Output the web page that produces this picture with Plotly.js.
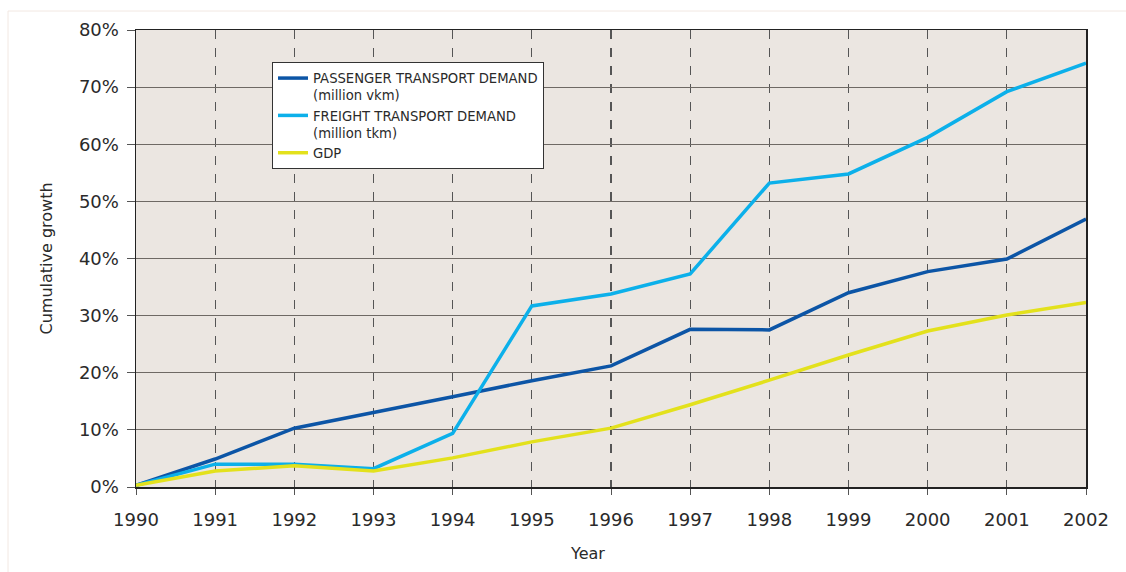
<!DOCTYPE html>
<html>
<head>
<meta charset="utf-8">
<script src="https://cdn.plot.ly/plotly-3.0.1.min.js"></script>
<style>html,body{margin:0;padding:0;background:#fff;}#chart{width:1126px;height:572px;}</style>
</head>
<body>
<div id="chart"></div>
<script>
const years = [1990,1991,1992,1993,1994,1995,1996,1997,1998,1999,2000,2001,2002];
const passenger = [0.3,4.9,10.3,13.0,15.8,18.6,21.2,27.6,27.5,34.0,37.7,39.9,46.9];
const freight = [0.3,4.0,4.0,3.2,9.4,31.7,33.8,37.3,53.2,54.8,61.2,69.2,74.2];
const gdp = [0.3,2.8,3.7,2.8,5.1,7.9,10.3,14.4,18.7,23.1,27.3,30.1,32.3];
const seriesNames = ['PASSENGER TRANSPORT DEMAND<br>(million vkm)','FREIGHT TRANSPORT DEMAND<br>(million tkm)','GDP'];
const yTicks = [0,10,20,30,40,50,60,70,80];

const font = 'DejaVu Sans, Noto Sans, sans-serif';
const traces = [
  {x: years, y: passenger, name: seriesNames[0], mode: 'lines', line: {color: '#0c55a6', width: 3.5}},
  {x: years, y: freight, name: seriesNames[1], mode: 'lines', line: {color: '#0cb0ea', width: 3.5}},
  {x: years, y: gdp, name: seriesNames[2], mode: 'lines', line: {color: '#e3e11c', width: 3.5}}
];
const layout = {
  width: 1126, height: 572,
  margin: {l: 136, r: 40, t: 30, b: 85},
  paper_bgcolor: '#ffffff',
  plot_bgcolor: '#ebe6e1',
  font: {family: font, color: '#222'},
  showlegend: true,
  legend: {
    x: (272-136)/950, y: (487-62)/457, xanchor: 'left', yanchor: 'top',
    bgcolor: '#ffffff', bordercolor: '#333', borderwidth: 1,
    font: {family: font, size: 13.2, color: '#2a2a2a'},
    valign: 'top', tracegroupgap: 0, itemwidth: 30
  },
  xaxis: {
    range: [1990, 2002], tickmode: 'array', tickvals: years, ticktext: years.map(String),
    showgrid: true, gridcolor: '#555', griddash: 'dash', gridwidth: 1.2,
    showline: true, linecolor: '#222', linewidth: 1.5, mirror: true,
    ticks: 'outside', ticklen: 6, tickcolor: '#555', ticklabelstandoff: 10,
    tickfont: {family: font, size: 18, color: '#2a2a2a'},
    zeroline: false, fixedrange: true
  },
  yaxis: {
    range: [0, 80], tickmode: 'array', tickvals: yTicks, ticktext: yTicks.map(v => v + '%'),
    showgrid: true, gridcolor: '#6e6964', gridwidth: 1.2,
    showline: true, linecolor: '#222', linewidth: 1.5, mirror: true,
    ticks: 'outside', ticklen: 8, tickcolor: '#555', ticklabelstandoff: 4,
    tickfont: {family: font, size: 18, color: '#2a2a2a'},
    zeroline: false, fixedrange: true
  },
  shapes: [
    {type: 'rect', xref: 'paper', yref: 'paper', x0: (8-136)/950, x1: 1.2, y0: -0.3, y1: (487-11)/457,
     line: {color: '#f2e8e2', width: 1}, fillcolor: 'rgba(0,0,0,0)', layer: 'below'}
  ],
  annotations: [
    {text: 'Year', xref: 'paper', yref: 'paper', x: (587-136)/950, y: (487-553)/457,
     showarrow: false, xanchor: 'center', yanchor: 'middle', font: {family: font, size: 16, color: '#2a2a2a'}},
    {text: 'Cumulative growth', xref: 'paper', yref: 'paper', x: (46-136)/950, y: 0.5, textangle: -90,
     showarrow: false, xanchor: 'center', yanchor: 'middle', font: {family: font, size: 16, color: '#2a2a2a'}}
  ]
};
Plotly.newPlot('chart', traces, layout, {displayModeBar: false, staticPlot: true});
</script>
</body>
</html>
